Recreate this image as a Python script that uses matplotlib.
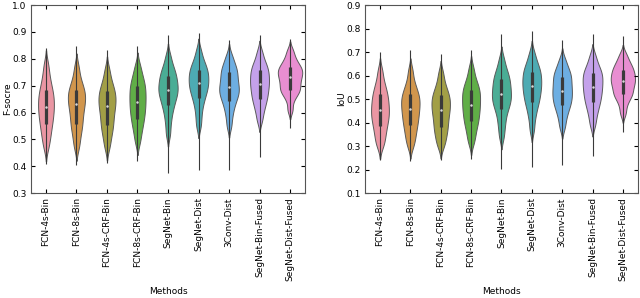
import matplotlib
matplotlib.use('Agg')
import matplotlib.pyplot as plt
import seaborn as sns
import pandas as pd

methods = ['FCN-4s-Bin', 'FCN-8s-Bin', 'FCN-4s-CRF-Bin', 'FCN-8s-CRF-Bin',
           'SegNet-Bin', 'SegNet-Dist', '3Conv-Dist', 'SegNet-Bin-Fused',
           'SegNet-Dist-Fused']

# body of each violin: percentiles 5, 10, ..., 95
fscore = {
    'FCN-4s-Bin': [0.47, 0.50, 0.52, 0.54, 0.557, 0.57, 0.585, 0.598, 0.61, 0.622,
                   0.634, 0.646, 0.658, 0.671, 0.684, 0.70, 0.72, 0.745, 0.78],
    'FCN-8s-Bin': [0.47, 0.50, 0.525, 0.543, 0.559, 0.575, 0.59, 0.605, 0.618, 0.63,
                   0.641, 0.652, 0.663, 0.673, 0.684, 0.697, 0.712, 0.735, 0.77],
    'FCN-4s-CRF-Bin': [0.47, 0.50, 0.522, 0.54, 0.555, 0.57, 0.585, 0.599, 0.612, 0.624,
                       0.635, 0.646, 0.657, 0.668, 0.679, 0.692, 0.707, 0.728, 0.76],
    'FCN-8s-CRF-Bin': [0.49, 0.52, 0.543, 0.56, 0.576, 0.59, 0.603, 0.616, 0.628, 0.64,
                       0.652, 0.664, 0.676, 0.688, 0.70, 0.713, 0.728, 0.747, 0.775],
    'SegNet-Bin': [0.52, 0.56, 0.59, 0.612, 0.629, 0.643, 0.656, 0.667, 0.676, 0.685,
                   0.695, 0.705, 0.715, 0.726, 0.737, 0.749, 0.762, 0.78, 0.81],
    'SegNet-Dist': [0.55, 0.585, 0.615, 0.637, 0.654, 0.668, 0.68, 0.691, 0.70, 0.71,
                    0.72, 0.73, 0.739, 0.749, 0.759, 0.77, 0.783, 0.80, 0.83],
    '3Conv-Dist': [0.55, 0.585, 0.61, 0.629, 0.644, 0.656, 0.667, 0.676, 0.685, 0.694,
                   0.704, 0.715, 0.726, 0.738, 0.749, 0.76, 0.772, 0.788, 0.812],
    'SegNet-Bin-Fused': [0.57, 0.60, 0.62, 0.637, 0.65, 0.662, 0.674, 0.685, 0.696, 0.706,
                         0.716, 0.726, 0.736, 0.747, 0.757, 0.768, 0.78, 0.797, 0.825],
    'SegNet-Dist-Fused': [0.61, 0.645, 0.665, 0.676, 0.684, 0.693, 0.703, 0.713, 0.722, 0.731,
                          0.739, 0.747, 0.754, 0.761, 0.769, 0.778, 0.79, 0.806, 0.83],
}
fscore_min = [0.409, 0.405, 0.411, 0.421, 0.374, 0.387, 0.387, 0.434, 0.543]
fscore_max = [0.841, 0.846, 0.834, 0.846, 0.887, 0.896, 0.871, 0.887, 0.872]

iou = {
    'FCN-4s-Bin': [0.30, 0.325, 0.347, 0.367, 0.384, 0.40, 0.414, 0.427, 0.44, 0.452,
                   0.465, 0.478, 0.492, 0.506, 0.52, 0.536, 0.555, 0.58, 0.62],
    'FCN-8s-Bin': [0.30, 0.328, 0.35, 0.37, 0.388, 0.403, 0.418, 0.432, 0.446, 0.459,
                   0.471, 0.484, 0.496, 0.508, 0.52, 0.535, 0.553, 0.578, 0.62],
    'FCN-4s-CRF-Bin': [0.30, 0.325, 0.347, 0.365, 0.381, 0.397, 0.413, 0.428, 0.442, 0.455,
                       0.467, 0.479, 0.492, 0.504, 0.516, 0.53, 0.548, 0.572, 0.61],
    'FCN-8s-CRF-Bin': [0.315, 0.345, 0.37, 0.39, 0.406, 0.421, 0.436, 0.45, 0.463, 0.476,
                       0.489, 0.502, 0.515, 0.527, 0.54, 0.554, 0.57, 0.593, 0.63],
    'SegNet-Bin': [0.34, 0.38, 0.41, 0.437, 0.457, 0.472, 0.485, 0.498, 0.509, 0.52,
                   0.532, 0.545, 0.558, 0.571, 0.584, 0.598, 0.614, 0.635, 0.67],
    'SegNet-Dist': [0.37, 0.415, 0.445, 0.468, 0.486, 0.501, 0.515, 0.529, 0.542, 0.554,
                    0.566, 0.578, 0.59, 0.603, 0.615, 0.628, 0.643, 0.663, 0.695],
    '3Conv-Dist': [0.38, 0.415, 0.44, 0.459, 0.474, 0.487, 0.499, 0.511, 0.523, 0.534,
                   0.546, 0.558, 0.571, 0.584, 0.596, 0.608, 0.622, 0.64, 0.668],
    'SegNet-Bin-Fused': [0.39, 0.425, 0.45, 0.47, 0.486, 0.50, 0.514, 0.527, 0.539, 0.551,
                         0.563, 0.575, 0.586, 0.598, 0.609, 0.621, 0.635, 0.655, 0.685],
    'SegNet-Dist-Fused': [0.44, 0.475, 0.499, 0.513, 0.523, 0.535, 0.547, 0.558, 0.568, 0.577,
                          0.586, 0.595, 0.605, 0.615, 0.625, 0.636, 0.649, 0.665, 0.69],
}
iou_min = [0.239, 0.235, 0.242, 0.246, 0.204, 0.213, 0.218, 0.256, 0.358]
iou_max = [0.700, 0.707, 0.693, 0.707, 0.778, 0.788, 0.750, 0.778, 0.767]

# positions of 25th / 50th / 75th percentile inside the 5..95 lists
Q1, MED, Q3 = 4, 9, 14


def to_frame(d):
    rows = [(m, v) for m in methods for v in d[m]]
    return pd.DataFrame(rows, columns=['Methods', 'value'])


plt.rcParams.update({
    'font.family': 'DejaVu Sans',
    'font.size': 6.5,
    'xtick.direction': 'in', 'ytick.direction': 'in',
    'xtick.top': True, 'ytick.right': True,
    'xtick.major.size': 3, 'ytick.major.size': 3,
    'xtick.major.pad': 3, 'ytick.major.pad': 3,
    'axes.linewidth': 0.8,
})

palette = sns.husl_palette(len(methods), l=.7)

fig = plt.figure(figsize=(6.4, 2.98), dpi=100)
ax1 = fig.add_axes([0.048, 0.352, 0.429, 0.631])
ax2 = fig.add_axes([0.570, 0.352, 0.427, 0.631])

panels = [(ax1, fscore, fscore_min, fscore_max, 'F-socre', (0.3, 1.0)),
          (ax2, iou, iou_min, iou_max, 'IoU', (0.1, 0.9))]

for ax, d, lo, hi, ylab, ylim in panels:
    df = to_frame(d)
    sns.violinplot(data=df, x='Methods', y='value', hue='Methods', palette=palette,
                   saturation=0.75, order=methods, cut=2, bw_adjust=0.55,
                   inner=None, linewidth=0.7, linecolor='#5a5a5a', width=0.8,
                   density_norm='area', common_norm=True, legend=False, ax=ax)
    pos = list(range(len(methods)))
    q1 = [d[m][Q1] for m in methods]
    med = [d[m][MED] for m in methods]
    q3 = [d[m][Q3] for m in methods]
    # inner box: thin whisker, thick IQR bar, light median dot
    ax.vlines(pos, lo, hi, color='#3a3a3a', lw=0.8, zorder=3)
    ax.vlines(pos, q1, q3, color='#3a3a3a', lw=2.3, zorder=4)
    ax.plot(pos, med, 'o', ms=1.8, mfc='#d8d8d8', mec='none', zorder=5)

    ax.set_ylim(*ylim)
    ax.set_xlim(-0.5, len(methods) - 0.5)
    ax.set_ylabel(ylab, labelpad=0)
    ax.set_xlabel('Methods')
    ax.tick_params(axis='x', labelrotation=90)
    for s in ax.spines.values():
        s.set_visible(True)
        s.set_color('#555555')

fig.savefig('out.png', dpi=100)
plt.close(fig)
